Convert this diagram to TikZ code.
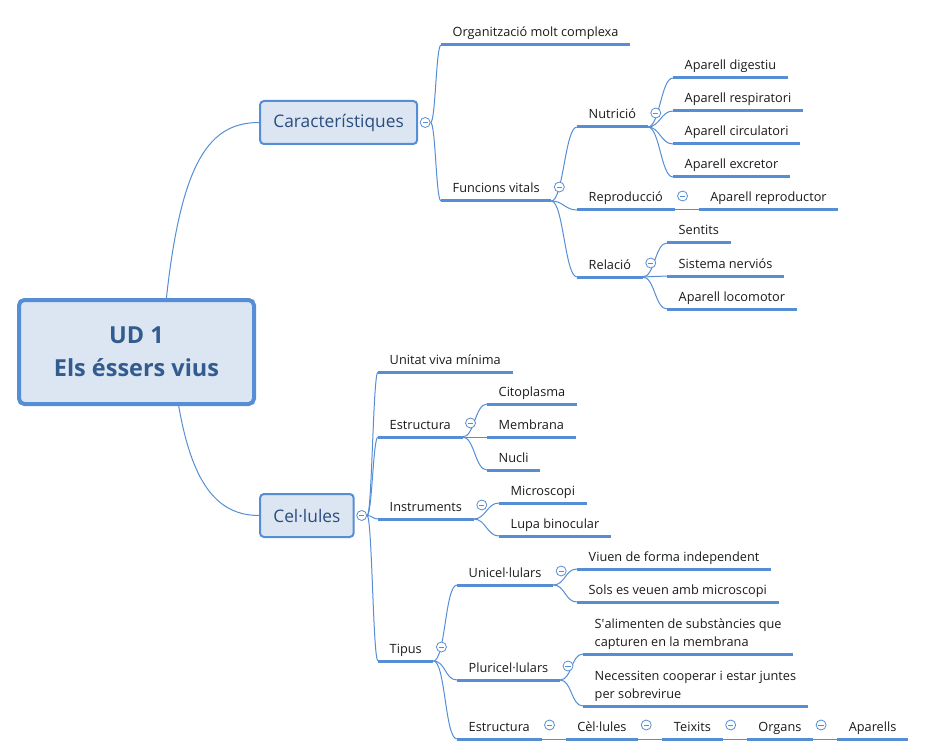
\documentclass[tikz,border=0pt]{standalone}
\usepackage{fontspec}
\setmainfont{Open Sans}
\usepackage{xcolor}
\definecolor{lineBlue}{HTML}{558ED5}
\definecolor{boxBg}{HTML}{DCE6F2}
\definecolor{titleDark}{HTML}{325C8F}
\definecolor{topicDark}{HTML}{2B4C7E}
\definecolor{leafText}{HTML}{1A1A1A}
\usepackage{tikz}
\usetikzlibrary{positioning}
\tikzset{%
  rootBox/.style={%
    rectangle,
    rounded corners=4pt,
    draw=lineBlue,
    line width=3pt,
    fill=boxBg,
    text=titleDark,
    font=\bfseries\fontsize{17.6}{24.75}\selectfont,
    minimum width=176.25pt,
    minimum height=78pt,
    align=center
  },
  mainBox/.style={%
    rectangle,
    rounded corners=3pt,
    draw=lineBlue,
    line width=1.5pt,
    fill=boxBg,
    text=topicDark,
    font=\fontsize{13}{16}\selectfont,
    inner xsep=10pt,
    minimum height=32.25pt,
    anchor=west
  },
  topic/.style={%
    anchor=south west,
    inner xsep=8.8pt,
    inner ysep=6pt,
    text depth=0pt,
    outer sep=0pt,
    text=leafText,
    font=\fontsize{9.55}{13.5}\selectfont,
    align=left
  },
  uline/.style={draw=lineBlue, line width=2.25pt},
  branch/.style={draw=lineBlue, line width=0.75pt},
  fork/.style={to path={.. controls +(12,0) and +(-12,0) .. (\tikztotarget)}},
  shortFork/.style={to path={.. controls +(5,0) and +(-5,0) .. (\tikztotarget)}},
  fold/.style={%
    circle,
    draw=lineBlue,
    fill=white,
    line width=0.6pt,
    minimum size=7.5pt,
    inner sep=0pt,
    path picture={\draw[lineBlue, line width=0.6pt]
      ([xshift=-2pt]path picture bounding box.center) --
      ([xshift=2pt]path picture bounding box.center);}
  }
}

\begin{document}
\begin{tikzpicture}[x=0.75pt, y=-0.75pt]
  \useasboundingbox (0,0) rectangle (925,756);

  \node[rootBox] (root) at (136.5,352) {UD 1\\Els éssers vius};
  \node[mainBox] (car) at (259,122.5) {Característiques};
  \node[mainBox] (cel) at (259,515.5) {Cel·lules};
  \node[fold] (fcar) at ([xshift=5.25pt]car.east) {};
  \node[fold] (fcel) at ([xshift=5.25pt]cel.east) {};

  \draw[branch] (root.61) .. controls +(15,-138) and +(-49,0) .. (car.west);
  \draw[branch] (root.-52) .. controls +(13,74) and +(-44,0) .. (cel.west);

  % Caracteristiques
  \node[topic] (org) at (441,45) {Organització molt complexa};
  \node[topic] (fv) at (441,201) {Funcions vitals};
  \node[topic] (nut) at (577,127) {Nutrició};
  \node[topic] (rep) at (577,210) {Reproducció};
  \node[topic] (rel) at (577,277) {Relació};
  \node[topic] (dig) at (673,78) {Aparell digestiu};
  \node[topic] (resp) at (673,111) {Aparell respiratori};
  \node[topic] (circ) at (673,144) {Aparell circulatori};
  \node[topic] (excr) at (673,177) {Aparell excretor};
  \node[topic] (apRep) at ([xshift=18pt]rep.south east) {Aparell reproductor};
  \node[topic] (sent) at (667,243) {Sentits};
  \node[topic] (nerv) at (667,276) {Sistema nerviós};
  \node[topic] (loco) at (667,309) {Aparell locomotor};

  % Cel.lules
  \node[topic] (uvm) at (378,372) {Unitat viva mínima};
  \node[topic] (estr) at (378,437) {Estructura};
  \node[topic] (instr) at (378,519) {Instruments};
  \node[topic] (tip) at (378,661) {Tipus};
  \node[topic] (cito) at (487,404) {Citoplasma};
  \node[topic] (memb) at (487,437) {Membrana};
  \node[topic] (nucl) at (487,470) {Nucli};
  \node[topic] (micro) at (499,503) {Microscopi};
  \node[topic] (lupa) at (499,536) {Lupa binocular};
  \node[topic] (uni) at (457,585) {Unicel·lulars};
  \node[topic] (pluri) at (457,680) {Pluricel·lulars};
  \node[topic] (estr2) at (457,739) {Estructura};
  \node[topic] (viu) at (577,569) {Viuen de forma independent};
  \node[topic] (sols) at (577,602) {Sols es veuen amb microscopi};
  \node[topic] (alim) at (583,654) {S\textquotesingle alimenten de substàncies que\\capturen en la membrana};
  \node[topic] (coop) at (583,706) {Necessiten cooperar i estar juntes\\per sobrevirue};
  \node[topic] (cel2) at ([xshift=18pt]estr2.south east) {Cèl·lules};
  \node[topic] (teix) at ([xshift=18pt]cel2.south east) {Teixits};
  \node[topic] (orga) at ([xshift=18pt]teix.south east) {Organs};
  \node[topic] (apar) at ([xshift=18pt]orga.south east) {Aparells};

  \foreach \n in {org,fv,nut,rep,rel,dig,resp,circ,excr,apRep,sent,nerv,loco,
    uvm,estr,instr,tip,cito,memb,nucl,micro,lupa,uni,pluri,estr2,viu,sols,
    alim,coop,cel2,teix,orga,apar}
    \draw[uline] (\n.south west) -- (\n.south east);

  \foreach \c in {org,fv}
    \draw[branch] (fcar.east) to[shortFork] (\c.south west);
  \foreach \c in {nut,rep,rel}
    \draw[branch] (fv.south east) to[fork] (\c.south west);
  \foreach \c in {dig,resp,circ,excr}
    \draw[branch] (nut.south east) to[fork] (\c.south west);
  \foreach \c in {sent,nerv,loco}
    \draw[branch] (rel.south east) to[fork] (\c.south west);
  \draw[branch] (rep.south east) -- (apRep.south west);

  \foreach \c in {uvm,estr,instr,tip}
    \draw[branch] (fcel.east) to[shortFork] (\c.south west);
  \foreach \c in {cito,memb,nucl}
    \draw[branch] (estr.south east) to[fork] (\c.south west);
  \foreach \c in {micro,lupa}
    \draw[branch] (instr.south east) to[fork] (\c.south west);
  \foreach \c in {uni,pluri,estr2}
    \draw[branch] (tip.south east) to[fork] (\c.south west);
  \foreach \c in {viu,sols}
    \draw[branch] (uni.south east) to[fork] (\c.south west);
  \foreach \c in {alim,coop}
    \draw[branch] (pluri.south east) to[fork] (\c.south west);
  \draw[branch] (estr2.south east) -- (cel2.south west);
  \draw[branch] (cel2.south east) -- (teix.south west);
  \draw[branch] (teix.south east) -- (orga.south west);
  \draw[branch] (orga.south east) -- (apar.south west);

  \foreach \n in {fv,nut,rep,rel,estr,instr,tip,uni,pluri,estr2,cel2,teix,orga}
    \node[fold] (f\n) at ([xshift=6pt,yshift=10.5pt]\n.south east) {};
\end{tikzpicture}
\end{document}
